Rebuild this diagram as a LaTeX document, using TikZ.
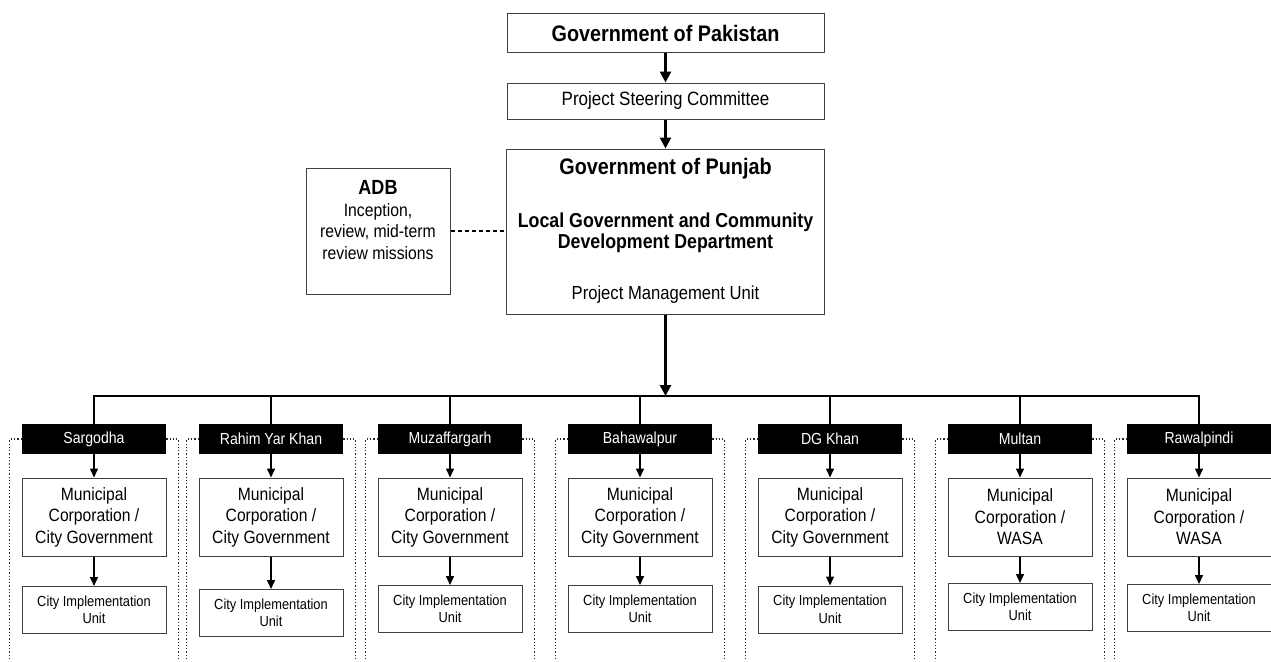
\documentclass[tikz,border=0pt]{standalone}
\usepackage{fontspec}
\setmainfont{Liberation Sans}[FakeStretch=0.88]
\usetikzlibrary{arrows.meta}
\begin{document}
\begin{tikzpicture}[x=1pt,y=-1pt,
 box/.style={draw=black!75, line width=1pt, inner sep=0pt, align=center},
 hdr/.style={fill=black, text=white, inner sep=0pt, minimum width=144pt, minimum height=30pt, font=\fontsize{16}{18}\selectfont},
 muni/.style={box, minimum width=144pt, minimum height=78pt, font=\fontsize{17.8}{21.5}\selectfont},
 ciu/.style={box, minimum width=144pt, minimum height=47pt, font=\fontsize{14.6}{17.5}\selectfont},
 cframe/.style={dotted, line width=1.3pt, black!85},
 bigarrow/.style={line width=2.6pt, -{Triangle[width=11pt,length=11pt]}},
 smallarrow/.style={line width=1.5pt, -{Triangle[width=8pt,length=9pt]}},
 feed/.style={line width=1.8pt},
]
\useasboundingbox (0,0) rectangle (1271,661);

% top chain
\node[box, minimum width=317pt, minimum height=39pt, font=\bfseries\fontsize{22.5}{26}\selectfont] (gop) at (665.5,33.5) {Government of Pakistan};
\node[box, minimum width=317pt, minimum height=36pt, font=\fontsize{19.3}{22}\selectfont] (psc) at (665.5,101) {Project Steering Committee};
\node[box, minimum width=318pt, minimum height=165pt] (gpb) at (665.5,231.5) {};
\node[font=\bfseries\fontsize{22.5}{26}\selectfont] (gpbt) at (665.5,169) {Government of Punjab};
\node[align=center, font=\bfseries\fontsize{20.2}{21.5}\selectfont] (lgcd) at (665.5,233) {Local Government and Community\\Development Department};
\node[font=\fontsize{18.9}{22}\selectfont] (pmu) at (665.5,295) {Project Management Unit};

% ADB
\node[box, minimum width=144pt, minimum height=126pt] (adb) at (378,231) {};
\node[align=center, font=\fontsize{17.9}{21.5}\selectfont] (adbt) at (378,220)
  {{\bfseries\fontsize{20.5}{23}\selectfont ADB}\\Inception,\\review, mid-term\\review missions};
\draw[line width=1.3pt, dash pattern=on 4pt off 3pt] (adb.east) -- (adb.east -| gpb.west);

\draw[bigarrow] (gop.south) -- (psc.north);
\draw[bigarrow] (psc.south) -- (gpb.north);
\coordinate (bar) at (665.5,396);
\draw[bigarrow] (gpb.south) -- (bar);

% city columns
\foreach \n/\x/\t/\m/\cy in {sar/94/Sargodha/City Government/610,
  ryk/271/Rahim Yar Khan/City Government/613,
  muz/450/Muzaffargarh/City Government/609,
  bah/640/Bahawalpur/City Government/609,
  dgk/830/DG Khan/City Government/609.5,
  mul/1020/Multan/WASA/607,
  raw/1199/Rawalpindi/WASA/608}{
  \node[hdr] (h\n) at (\x,439) {\t};
  \node[muni] (m\n) at (\x,517) {Municipal\\Corporation /\\\m};
  \node[ciu] (c\n) at (\x,\cy) {City Implementation\\Unit};
  \draw[smallarrow] (h\n.south) -- (m\n.north);
  \draw[smallarrow] (m\n.south) -- (c\n.north);
  \draw[cframe] (h\n.west) -| ([xshift=-12pt]h\n.west |- 0,661);
  \ifnum\x<1100
    \draw[cframe] (h\n.east) -| ([xshift=12pt]h\n.east |- 0,661);
  \fi
}

% distribution bar
\draw[feed] (hsar.north) -- (hsar.north |- bar) -- (hraw.north |- bar) -- (hraw.north);
\foreach \n in {ryk,muz,bah,dgk,mul}{
  \draw[feed] (h\n.north |- bar) -- (h\n.north);
}
\end{tikzpicture}
\end{document}
